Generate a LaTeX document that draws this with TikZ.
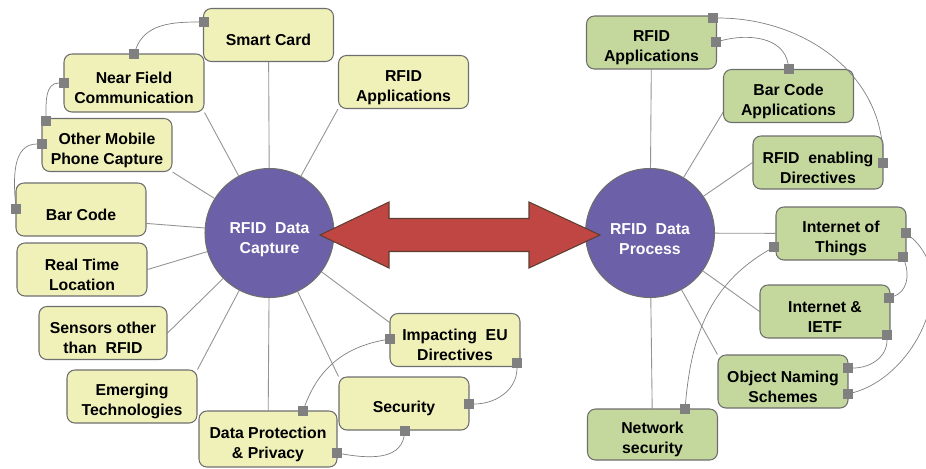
\documentclass[tikz,border=0pt]{standalone}
\usepackage{fontspec}
\setmainfont{Liberation Sans}
\usetikzlibrary{backgrounds}
\definecolor{capfill}{HTML}{F0F1B9}
\definecolor{procfill}{HTML}{C4D89D}
\definecolor{hubfill}{HTML}{6C60A8}
\definecolor{arrowfill}{HTML}{BF4643}
\definecolor{arrowedge}{HTML}{5E3E30}
\definecolor{portgray}{HTML}{808080}
\definecolor{edgegray}{HTML}{6E6E6E}

\begin{document}
\begin{tikzpicture}[x=0.02cm, y=-0.02cm,
    textrise/.initial=23.5pt,
    box/.style = {draw=edgegray, line width=0.6pt, rounded corners=4.5pt, minimum width=2.6cm, minimum height=1.06cm, inner sep=1pt, align=center, font=\fontsize{9}{11.3}\selectfont\bfseries, execute at begin node={\rule{0pt}{\pgfkeysvalueof{/tikz/textrise}}}},
    capbox/.style = {box, fill=capfill},
    procbox/.style = {box, fill=procfill},
    hub/.style = {draw=edgegray, line width=0.6pt, circle, fill=hubfill, minimum size=2.58cm, text=white, align=center, font=\fontsize{9}{11.3}\selectfont\bfseries, execute at begin node={\rule{0pt}{24.7pt}}},
    port/.style = {fill=portgray, minimum size=0.19cm, inner sep=0pt},
    spoke/.style = {draw=gray!85, line width=0.5pt},
    link/.style = {draw=gray, line width=0.4pt}]
      \useasboundingbox (0,0) rectangle (926,468);

      \node[hub] (cap) at (269.5,233) {RFID\ \ Data\\Capture};
      \node[hub] (proc) at (650,233) {RFID\ \ Data\\Process};

      \node[capbox, textrise=12.2pt] (smart) at (268.5,35) {Smart Card};
      \node[capbox, minimum width=2.8cm, minimum height=1.16cm] (nfc) at (134,83) {Near Field\\Communication};
      \node[capbox] (mobile) at (107,145) {Other Mobile\\Phone Capture};
      \node[capbox, textrise=12.2pt] (barcode) at (81,209.5) {Bar Code};
      \node[capbox] (rtl) at (82,269.5) {Real Time\\Location};
      \node[capbox, minimum width=2.56cm] (sensors) at (103,333) {Sensors other\\than\ \ RFID};
      \node[capbox] (emerging) at (132,396.5) {Emerging\\Technologies};
      \node[capbox, minimum width=2.76cm, minimum height=1.12cm] (dpp) at (268,439) {Data Protection\\\& Privacy};
      \node[capbox, textrise=12.2pt] (security) at (404,403.5) {Security};
      \node[capbox] (eudir) at (455,340) {Impacting\ \ EU\\Directives};
      \node[capbox] (lapp) at (403.5,82) {RFID\\Applications};

      \node[procbox] (rapp) at (651.5,42.5) {RFID\\Applications};
      \node[procbox] (bcapp) at (788.5,96) {Bar Code\\Applications};
      \node[procbox] (renab) at (818,162.5) {RFID\ \ enabling\\Directives};
      \node[procbox] (iot) at (841,233.5) {Internet of\\Things};
      \node[procbox] (ietf) at (825,311.5) {Internet \&\\IETF};
      \node[procbox] (ons) at (783,381.5) {Object Naming\\Schemes};
      \node[procbox, minimum height=1.02cm] (netsec) at (652.5,434.5) {Network\\security};

      \begin{pgfonlayer}{background}
      \draw[spoke] (cap) -- (smart);
      \draw[spoke] (cap) -- (nfc.south east);
      \draw[spoke] (cap) -- (mobile.south east);
      \draw[spoke] (cap) -- (barcode.-12);
      \draw[spoke] (cap) -- (rtl.east);
      \draw[spoke] (cap) -- (sensors.east);
      \draw[spoke] (cap) -- (emerging.north east);
      \draw[spoke] (cap) -- (dpp);
      \draw[spoke] (cap) -- (security.north west);
      \draw[spoke] (cap) -- (eudir.165);
      \draw[spoke] (cap) -- (lapp.south west);
      \draw[spoke] (proc) -- (rapp);
      \draw[spoke] (proc) -- (bcapp.-166);
      \draw[spoke] (proc) -- (renab.west);
      \draw[spoke] (proc) -- (iot);
      \draw[spoke] (proc) -- (ietf.west);
      \draw[spoke] (proc) -- (ons.north west);
      \draw[spoke] (proc) -- (netsec);
      \end{pgfonlayer}

      \fill[arrowfill, draw=arrowedge, line width=0.6pt] (320,235) -- (389,202) -- (389,218.5) -- (529,218.5) -- (529,202) -- (600,235) -- (529,268) -- (529,251.5) -- (389,251.5) -- (389,268) -- cycle;

      \node[port] (pa) at (204,22) {};
      \node[port] (pb) at (134,54) {};
      \node[port] (pc) at (64,83) {};
      \node[port] (pd) at (46,121) {};
      \node[port] (pe) at (42,144) {};
      \node[port] (pf) at (16,209) {};
      \node[port] (pg) at (390,339) {};
      \node[port] (ph) at (303,411) {};
      \node[port] (pi) at (517,363) {};
      \node[port] (pj) at (469,404) {};
      \node[port] (pk) at (405,431) {};
      \node[port] (pl) at (337,453) {};
      \node[port] (pm) at (713,18) {};
      \node[port] (pn) at (883,163) {};
      \node[port] (po) at (716,42) {};
      \node[port] (pp) at (789,69) {};
      \node[port] (pq) at (906,233) {};
      \node[port] (pr) at (848,394) {};
      \node[port] (ps) at (903,257) {};
      \node[port] (pt) at (889,298) {};
      \node[port] (pu) at (887,335) {};
      \node[port] (pv) at (848,368) {};
      \node[port] (pw) at (774,247) {};
      \node[port] (px) at (685,409) {};

      \draw[link] (pa) to[out=180, in=70] (pb);
      \draw[link] (pc) to[out=180, in=90] (pd);
      \draw[link] (pe) to[out=180, in=95] (pf);
      \draw[link] (pg) to[out=190, in=70] (ph);
      \draw[link] (pi) to[out=-90, in=0] (pj);
      \draw[link] (pk) to[out=-100, in=-10] (pl);
      \draw[link] (pm) to[out=0, in=90] (pn);
      \draw[link] (po) to[out=15, in=100] (pp);
      \draw[link] (pq) to[out=-40, in=15] (pr);
      \draw[link] (ps) to[out=-70, in=20] (pt);
      \draw[link] (pu) to[out=-90, in=0] (pv);
      \draw[link] (pw) to[out=210, in=85] (px);
    \end{tikzpicture}
\end{document}
